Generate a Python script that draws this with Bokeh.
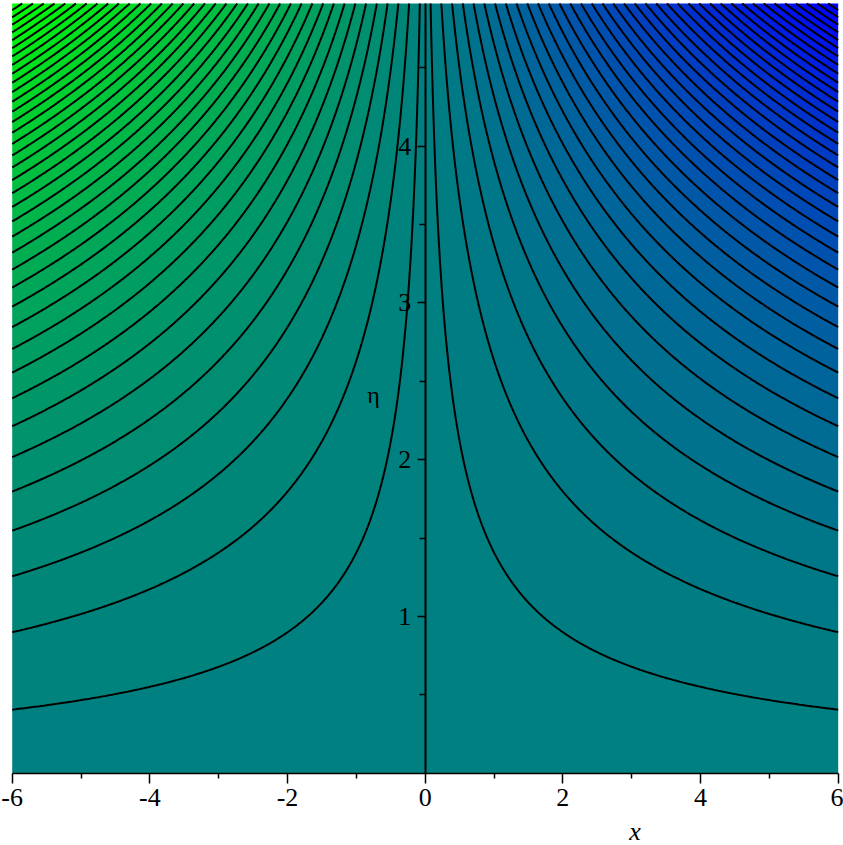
import numpy as np
from bokeh.plotting import figure
from bokeh.models import FixedTicker, Label, Range1d
from bokeh.embed import file_html
from bokeh.resources import INLINE

# ---- data: field f(x, eta) = x * g(eta), g polynomial in eta
X_RANGE = [-6.0, 6.0]
ETA_RANGE = [0.0, 4.91]
G_COEFFS = [0.0, 1.0, 1.0, 0.0, 0.0029, 0.00464]   # g(eta) = sum c_k eta^k
LEVEL_FIRST = 3.43          # first contour level (levels at +-(2k-1)*LEVEL_FIRST)
LEVEL_STEP = 6.86
LEVELS_PER_SIDE = 38
COLOR_LOW = (0, 255, 0)     # green at the minimum
COLOR_HIGH = (0, 0, 255)    # blue at the maximum

X_TICKS = [-6, -4, -2, 0, 2, 4, 6]
X_MINOR = [-5, -3, -1, 1, 3, 5]
ETA_TICKS = [1, 2, 3, 4]
ETA_MINOR = [0.5, 1.5, 2.5, 3.5, 4.5]

# ---- field on a grid
xs = np.linspace(X_RANGE[0], X_RANGE[1], 481)
es = np.linspace(ETA_RANGE[0], ETA_RANGE[1], 401)
XX, EE = np.meshgrid(xs, es)
G = sum(c * EE ** k for k, c in enumerate(G_COEFFS))
Z = XX * G
fmin, fmax = float(Z.min()), float(Z.max())

pos = [LEVEL_FIRST + k * LEVEL_STEP for k in range(LEVELS_PER_SIDE)]
inner = sorted([-v for v in pos] + pos)
levels = [fmin - 1.0] + inner + [fmax + 1.0]

def mix(t):
    r = COLOR_LOW[0] + (COLOR_HIGH[0] - COLOR_LOW[0]) * t
    g = COLOR_LOW[1] + (COLOR_HIGH[1] - COLOR_LOW[1]) * t
    b = COLOR_LOW[2] + (COLOR_HIGH[2] - COLOR_LOW[2]) * t
    return "#%02x%02x%02x" % (int(round(r)), int(round(g)), int(round(b)))

fill_colors = []
for i in range(len(levels) - 1):
    lo = max(levels[i], fmin)
    hi = min(levels[i + 1], fmax)
    mid = 0.5 * (lo + hi)
    fill_colors.append(mix((mid - fmin) / (fmax - fmin)))

# ---- figure: the frame fills the canvas; axes are pinned at x=0 and eta=0
p = figure(width=843, height=845,
           x_range=Range1d(-6.17, 6.077),
           y_range=Range1d(-0.46, 4.929),
           output_backend="svg", toolbar_location=None,
           min_border_left=0, min_border_right=0,
           min_border_top=0, min_border_bottom=0)
p.outline_line_color = None
p.grid.visible = False
p.background_fill_color = "white"

p.contour(x=xs, y=es, z=Z, levels=levels,
          fill_color=fill_colors, line_color="black", line_width=2.0)

FONT = "'Liberation Serif', serif"

xa = p.xaxis[0]
xa.fixed_location = 0
xa.bounds = (X_RANGE[0], X_RANGE[1])
xa.ticker = FixedTicker(ticks=X_TICKS, minor_ticks=X_MINOR)
xa.major_label_overrides = {v: str(v) for v in X_TICKS}
xa.major_tick_out = 10
xa.major_tick_in = 0
xa.minor_tick_out = 5
xa.minor_tick_in = 0
xa.major_label_standoff = 6
xa.major_label_text_font = FONT
xa.major_label_text_font_size = "26px"
xa.major_label_text_color = "black"
xa.axis_line_color = "black"
xa.axis_line_width = 1.5
xa.major_tick_line_width = 1.5
xa.minor_tick_line_width = 1.5

ya = p.yaxis[0]
ya.fixed_location = 0
ya.bounds = (ETA_RANGE[0], ETA_RANGE[1])
ya.ticker = FixedTicker(ticks=ETA_TICKS, minor_ticks=ETA_MINOR)
ya.major_tick_out = 8
ya.major_tick_in = 0
ya.minor_tick_out = 6
ya.minor_tick_in = 0
ya.major_label_standoff = 6
ya.major_label_text_font = FONT
ya.major_label_text_font_size = "26px"
ya.major_label_text_color = "black"
ya.axis_line_color = "black"
ya.axis_line_width = 2.0
ya.major_tick_line_width = 1.5
ya.minor_tick_line_width = 1.5

p.add_layout(Label(x=3.05, y=-0.37, text="x", text_font=FONT,
                   text_font_style="italic", text_font_size="26px",
                   text_align="center", text_baseline="middle", text_color="black"))
p.add_layout(Label(x=-0.75, y=2.41, text="η", text_font=FONT,
                   text_font_size="24px",
                   text_align="center", text_baseline="middle", text_color="black"))

open("out.html", "w").write(file_html(p, INLINE))
